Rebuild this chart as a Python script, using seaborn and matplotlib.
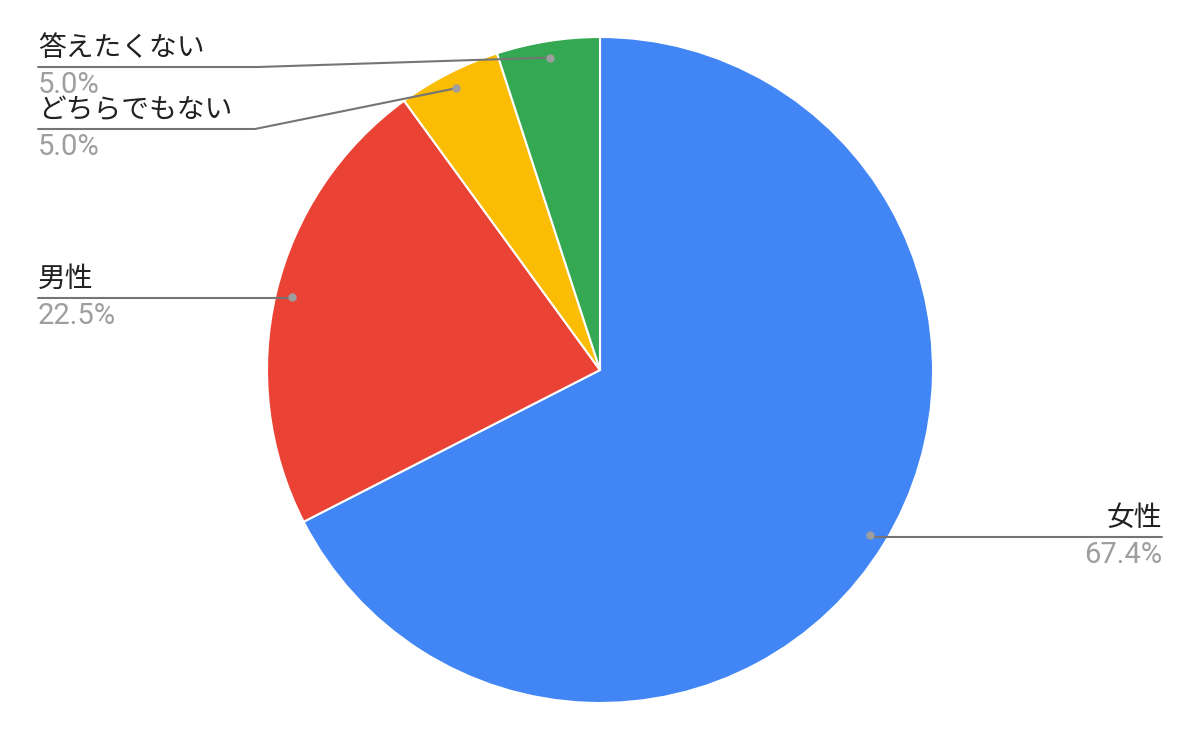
import numpy as np
import matplotlib
matplotlib.use("Agg")
import matplotlib.pyplot as plt
import seaborn as sns

# ---- data ----
categories = ["女性", "男性", "どちらでもない", "答えたくない"]
values = [67.4, 22.5, 5.0, 5.0]
colors = ["#4285F4", "#EA4335", "#FBBC04", "#34A853"]

sns.set_theme(style="white")
plt.rcParams['font.family'] = ['Noto Sans CJK JP', 'DejaVu Sans']

W, H = 1200, 741
fig = plt.figure(figsize=(W / 100, H / 100), dpi=100)
ax = fig.add_axes([0, 0, 1, 1])
ax.set_xlim(0, W)
ax.set_ylim(0, H)
ax.set_aspect("equal")
ax.axis("off")

cx, cy, R = 600, H - 370, 333
wedges, _ = ax.pie(values, colors=colors, startangle=90, counterclock=False,
                   center=(cx, cy), radius=R, frame=True,
                   wedgeprops=dict(edgecolor="white", linewidth=1.5))
ax.set_xlim(0, W)
ax.set_ylim(0, H)
ax.axis("off")

# label layout: (side, line y in pixels from top, bend x)
layout = {
    "女性": ("right", 537, None),
    "男性": ("left", 298, None),
    "どちらでもない": ("left", 129, 255),
    "答えたくない": ("left", 67, 258),
}
line_col = "#757575"
dot_col = "#9e9e9e"
xl, xr = 38, 1162

for w, cat, v in zip(wedges, categories, values):
    ang = np.deg2rad((w.theta1 + w.theta2) / 2)
    px, py = cx + 0.95 * R * np.cos(ang), cy + 0.95 * R * np.sin(ang)
    side, ly, bend = layout[cat]
    Y = H - ly
    if side == "right":
        ax.plot([px, xr], [Y, Y], color=line_col, lw=1.5, zorder=3)
        ha, tx = "right", xr
    else:
        if bend is None:
            ax.plot([px, xl], [Y, Y], color=line_col, lw=1.5, zorder=3)
        else:
            ax.plot([px, bend, xl], [py, Y, Y], color=line_col, lw=1.5, zorder=3)
        ha, tx = "left", xl
    ax.plot([px], [py], "o", color=dot_col, ms=5, zorder=4)
    ax.text(tx, Y + 4, cat, ha=ha, va="bottom", fontsize=20, color="#212121",
            family=['Noto Sans CJK JP', 'DejaVu Sans'])
    ax.text(tx, Y - 4, f"{v:.1f}%", ha=ha, va="top", fontsize=21, color="#9e9e9e",
            family=['Roboto', 'DejaVu Sans'])

fig.savefig("out.png", dpi=100, facecolor="white")
